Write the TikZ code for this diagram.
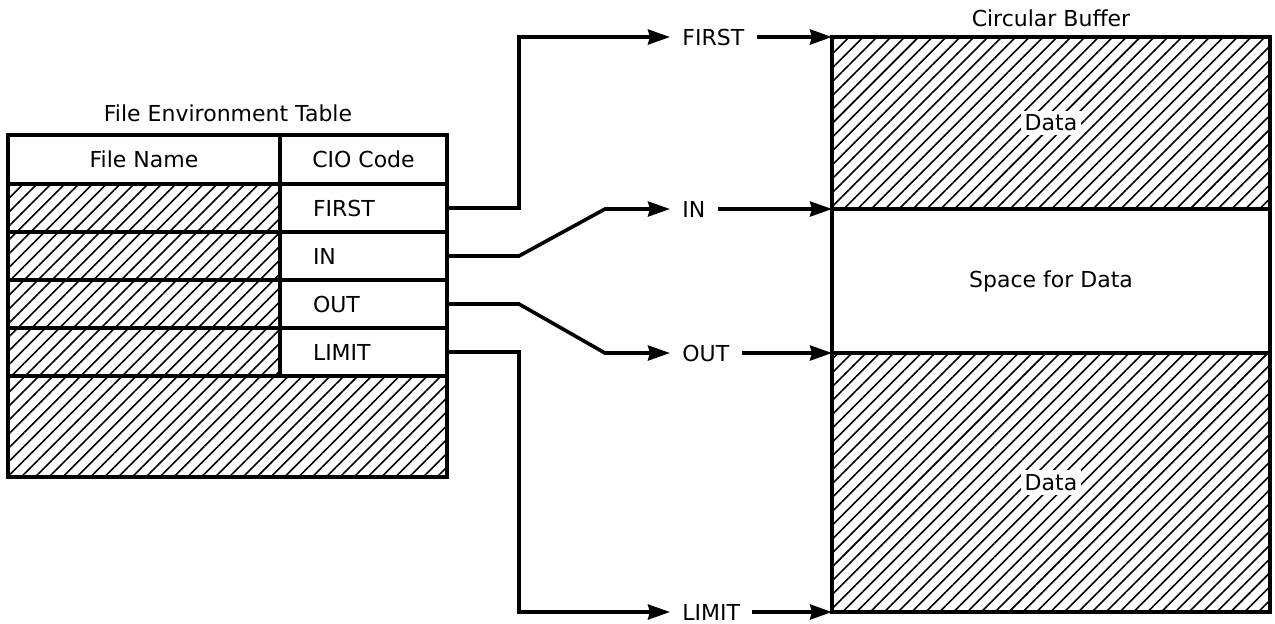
\documentclass[tikz,border=0pt]{standalone}
\usepackage{fontspec}
\setmainfont{DejaVu Sans}
\usetikzlibrary{arrows.meta,calc,patterns.meta}
\begin{document}
\begin{tikzpicture}[x=0.5pt,y=-0.5pt,
  font=\fontsize{11}{13}\selectfont,
  box/.style={draw, line width=1.8pt, inner sep=0pt, outer sep=0pt, anchor=north west},
  hatched/.style={pattern={Lines[angle=45,distance=4.9pt,line width=0.8pt]}},
  codecell/.style={box, minimum width=83.5pt, minimum height=24pt, text width=50.5pt, inner xsep=16.5pt, align=left},
  namecell/.style={box, hatched, minimum width=136pt, minimum height=24pt},
  lbl/.style={inner xsep=6pt, inner ysep=0pt, anchor=west},
  wire/.style={line width=1.8pt},
  ptr/.style={wire, -{Stealth[length=11pt,width=7.5pt,inset=1pt]}},
  datalbl/.style={fill=white, inner sep=2pt}
]
\useasboundingbox (0,0) rectangle (1275,623);

% ---------- File Environment Table ----------
\node (fetitle) at (228,113) {File Environment Table};
\node[box, minimum width=136pt, minimum height=24.5pt] (hname) at (8,135) {File Name};
\node[box, minimum width=83.5pt, minimum height=24.5pt] (hcode) at (280,135) {CIO Code};

\node[namecell] (n1) at (8,184) {};
\node[namecell] (n2) at (8,232) {};
\node[namecell] (n3) at (8,280) {};
\node[namecell] (n4) at (8,328) {};

\node[codecell] (cFirst) at (280,184) {FIRST};
\node[codecell] (cIn)    at (280,232) {IN};
\node[codecell] (cOut)   at (280,280) {OUT};
\node[codecell] (cLim)   at (280,328) {LIMIT};

\node[box, hatched, minimum width=219.5pt, minimum height=50.5pt] (tbot) at (8,376) {};

% ---------- Circular Buffer ----------
\node (cbtitle) at (1051,18) {Circular Buffer};
\node[box, hatched, minimum width=219pt, minimum height=86pt,
      label={[datalbl]center:Data}] (bufA) at (832,37) {};
\node[box, minimum width=219pt, minimum height=72pt] (bufS) at (832,209) {Space for Data};
\node[box, hatched, minimum width=219pt, minimum height=129.5pt,
      label={[datalbl]center:Data}] (bufB) at (832,353) {};

% ---------- pointer labels ----------
\node[lbl] (lFirst) at (670,37)  {FIRST};
\node[lbl] (lIn)    at (670,209) {IN};
\node[lbl] (lOut)   at (670,353) {OUT};
\node[lbl] (lLim)   at (670,612) {LIMIT};

% ---------- connectors ----------
\draw[ptr] (cFirst.east) -- ++(72,0) |- (lFirst.west);
\draw[ptr] (cIn.east) -- ++(72,0) -- ($(lIn.west)+(-65,0)$) -- (lIn.west);
\draw[ptr] (cOut.east) -- ++(72,0) -- ($(lOut.west)+(-65,0)$) -- (lOut.west);
\draw[ptr] (cLim.east) -- ++(72,0) |- (lLim.west);

\draw[ptr] (lFirst.east) -- (bufA.north west);
\draw[ptr] (lIn.east) -- (bufA.south west);
\draw[ptr] (lOut.east) -- (bufB.north west);
\draw[ptr] (lLim.east) -- (bufB.south west);
\end{tikzpicture}
\end{document}
